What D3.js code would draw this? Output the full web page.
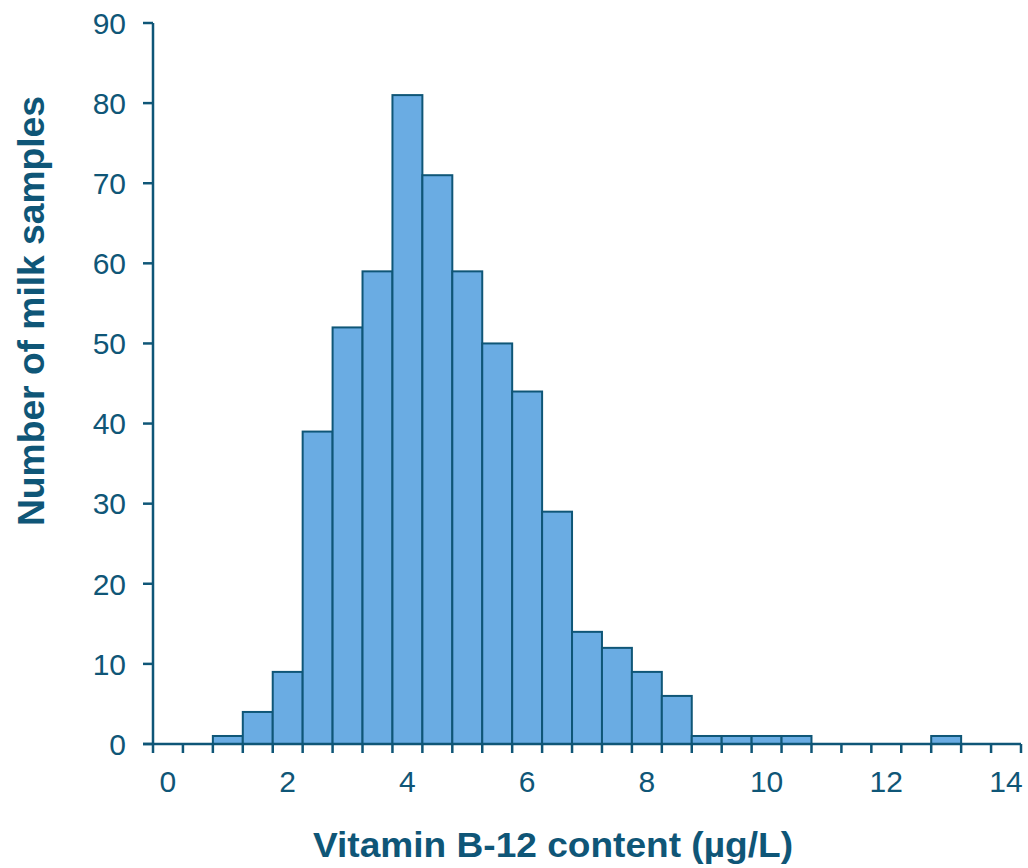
<!DOCTYPE html>
<html>
<head>
<meta charset="utf-8">
<script src="https://cdn.jsdelivr.net/npm/d3@7"></script>
<style>
  body { margin: 0; background: #fff; }
  text { font-family: "Liberation Sans", Arial, sans-serif; }
</style>
</head>
<body>
<svg id="chart" width="1028" height="868"></svg>
<script>
// Bin centres (µg/L), bin width 0.5
const binCenters = [0,0.5,1,1.5,2,2.5,3,3.5,4,4.5,5,5.5,6,6.5,7,7.5,8,8.5,9,9.5,10,10.5,11,11.5,12,12.5,13,13.5,14];
const counts     = [0,0,1,4,9,39,52,59,81,71,59,50,44,29,14,12,9,6,1,1,1,1,0,0,0,0,1,0,0];
const xTickLabels = [0,2,4,6,8,10,12,14];
const yTicks = [0,10,20,30,40,50,60,70,80,90];

(function () {
const axisColor = "#0f5677";
const fillColor = "#6aace3";

const svg = d3.select("#chart");
const mLeft = 153, mRight = 1021, mTop = 23, mBottom = 744;

const x = d3.scaleBand().domain(binCenters).range([mLeft, mRight]).padding(0);
const y = d3.scaleLinear().domain([0, 90]).range([mBottom, mTop]);

// bars
svg.append("g").selectAll("rect")
  .data(binCenters.map((c, i) => ({c, v: counts[i]})).filter(d => d.v > 0))
  .join("rect")
  .attr("x", d => x(d.c))
  .attr("y", d => y(d.v))
  .attr("width", x.bandwidth())
  .attr("height", d => y(0) - y(d.v))
  .attr("fill", fillColor)
  .attr("stroke", axisColor)
  .attr("stroke-width", 2);

// y axis
const gy = svg.append("g");
gy.append("line").attr("x1", mLeft).attr("x2", mLeft).attr("y1", y(90)).attr("y2", y(0))
  .attr("stroke", axisColor).attr("stroke-width", 2.5);
gy.selectAll("line.t").data(yTicks).join("line").attr("class", "t")
  .attr("x1", mLeft - 10).attr("x2", mLeft).attr("y1", d => y(d)).attr("y2", d => y(d))
  .attr("stroke", axisColor).attr("stroke-width", 2.5);
gy.selectAll("text").data(yTicks).join("text")
  .attr("x", 126).attr("y", d => y(d)).attr("dy", "0.36em")
  .attr("text-anchor", "end").attr("font-size", 30).attr("fill", axisColor)
  .text(d => d);

// x axis
const gx = svg.append("g");
gx.append("line").attr("x1", mLeft - 10).attr("x2", mRight).attr("y1", mBottom).attr("y2", mBottom)
  .attr("stroke", axisColor).attr("stroke-width", 2.5);
const edges = binCenters.map(c => x(c)).concat([x(binCenters[binCenters.length - 1]) + x.bandwidth()]);
gx.selectAll("line.t").data(edges).join("line").attr("class", "t")
  .attr("x1", d => d).attr("x2", d => d).attr("y1", mBottom).attr("y2", mBottom + 9)
  .attr("stroke", axisColor).attr("stroke-width", 2.5);
gx.selectAll("text").data(xTickLabels).join("text")
  .attr("x", d => x(d) + x.bandwidth() / 2).attr("y", 792)
  .attr("text-anchor", "middle").attr("font-size", 30).attr("fill", axisColor)
  .text(d => d);

// titles
svg.append("text").attr("x", 553).attr("y", 857)
  .attr("text-anchor", "middle").attr("font-size", 35).attr("font-weight", "bold")
  .attr("textLength", 480).attr("lengthAdjust", "spacingAndGlyphs")
  .attr("fill", axisColor).text("Vitamin B-12 content (µg/L)");
svg.append("text").attr("transform", "translate(44,311) rotate(-90)")
  .attr("text-anchor", "middle").attr("font-size", 37).attr("font-weight", "bold")
  .attr("textLength", 430).attr("lengthAdjust", "spacingAndGlyphs")
  .attr("fill", axisColor).text("Number of milk samples");
})();
</script>
</body>
</html>
